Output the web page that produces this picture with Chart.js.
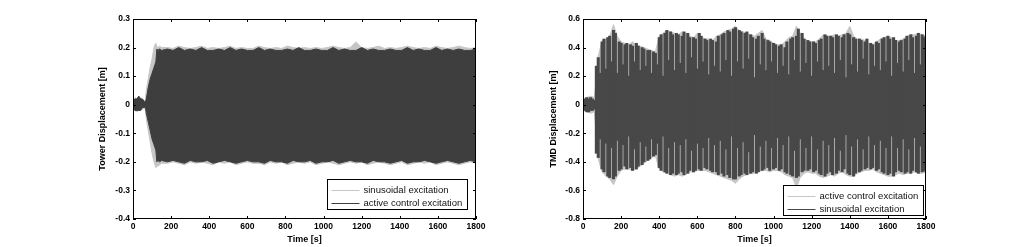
<!DOCTYPE html>
<html lang="en">
<head>
<meta charset="UTF-8">
<title>Tower and TMD displacement</title>
<script src="https://cdn.jsdelivr.net/npm/chart.js"></script>
<style>
  html, body { margin: 0; padding: 0; background: #fff; }
  .panel { position: absolute; top: 0; width: 512px; height: 247px; }
</style>
</head>
<body>
<div class="panel" style="left:0"><canvas id="towerChart" width="512" height="247"></canvas></div>
<div class="panel" style="left:512px"><canvas id="tmdChart" width="512" height="247"></canvas></div>

<script>
// ---- tower displacement (left), envelope of the oscillation [m] ----
const towerTime = [0,10,20,30,40,50,60,65,70,80,90,100,110,115,120,125,130,140,150,
  180,210,240,270,300,330,360,390,420,450,480,510,540,570,600,630,660,690,720,750,
  780,810,840,870,900,930,960,990,1020,1050,1080,1110,1140,1170,1200,1230,1260,1290,
  1320,1350,1380,1410,1440,1470,1500,1530,1560,1590,1620,1650,1680,1710,1740,1770,1800];

const towerSinHi = [0.015,0.025,0.02,0.03,0.025,0.02,0.01,0.02,0.05,0.09,0.13,0.16,0.2,0.21,0.215,0.205,0.2,0.205,0.2,
  0.2,0.197,0.205,0.2,0.197,0.2,0.205,0.197,0.2,0.197,
  0.2,0.205,0.197,0.2,0.197,0.197,0.205,0.2,0.197,0.2,
  0.197,0.205,0.2,0.197,0.2,0.197,0.2,0.197,0.2,0.205,
  0.2,0.197,0.2,0.22,0.2,0.197,0.2,0.205,0.197,0.2,
  0.197,0.2,0.205,0.2,0.197,0.2,0.197,0.205,0.2,0.197,
  0.2,0.205,0.2,0.197,0.2];
const towerSinLo = [-0.015,-0.02,-0.025,-0.02,-0.02,-0.015,-0.01,-0.02,-0.05,-0.09,-0.13,-0.17,-0.2,-0.21,-0.22,-0.215,-0.215,-0.21,-0.205,
  -0.205,-0.2,-0.205,-0.21,-0.2,-0.205,-0.2,-0.205,-0.21,-0.2,
  -0.205,-0.2,-0.21,-0.205,-0.2,-0.205,-0.205,-0.21,-0.2,-0.205,
  -0.2,-0.21,-0.205,-0.2,-0.205,-0.2,-0.21,-0.205,-0.2,-0.205,
  -0.21,-0.205,-0.2,-0.205,-0.2,-0.21,-0.205,-0.2,-0.205,-0.21,
  -0.205,-0.2,-0.21,-0.205,-0.2,-0.205,-0.2,-0.21,-0.205,-0.2,
  -0.205,-0.21,-0.205,-0.2,-0.205];
const towerActHi = [0.01,0.02,0.02,0.03,0.02,0.02,0.01,0.01,0.02,0.06,0.09,0.11,0.13,0.14,0.15,0.195,0.19,0.195,0.19,
  0.195,0.19,0.2,0.19,0.195,0.19,0.2,0.19,0.19,0.195,
  0.19,0.2,0.19,0.195,0.19,0.19,0.2,0.19,0.195,0.19,
  0.19,0.195,0.19,0.2,0.19,0.19,0.195,0.19,0.19,0.2,
  0.19,0.195,0.19,0.19,0.2,0.19,0.195,0.19,0.19,0.195,
  0.19,0.19,0.2,0.19,0.195,0.19,0.19,0.2,0.19,0.195,
  0.19,0.195,0.19,0.19,0.195];
const towerActLo = [-0.01,-0.02,-0.02,-0.02,-0.02,-0.01,-0.01,-0.01,-0.03,-0.06,-0.09,-0.12,-0.14,-0.15,-0.16,-0.2,-0.195,-0.2,-0.195,
  -0.2,-0.195,-0.2,-0.205,-0.195,-0.2,-0.2,-0.195,-0.205,-0.2,
  -0.195,-0.2,-0.205,-0.2,-0.195,-0.2,-0.2,-0.205,-0.195,-0.2,
  -0.2,-0.205,-0.195,-0.2,-0.2,-0.195,-0.205,-0.2,-0.2,-0.195,
  -0.205,-0.2,-0.195,-0.2,-0.2,-0.205,-0.195,-0.2,-0.2,-0.205,
  -0.2,-0.195,-0.205,-0.2,-0.2,-0.195,-0.2,-0.205,-0.2,-0.195,
  -0.2,-0.205,-0.2,-0.195,-0.2];

// ---- TMD displacement (right) ----
// active control excitation: envelope every 20 s
const tmdActStep = 20;
const tmdActHi = [0.04,0.05,0.06,0.05,0.34,0.45,0.46,0.48,0.56,0.48,
  0.44,0.43,0.42,0.44,0.42,0.41,0.40,0.39,0.38,0.37,
  0.48,0.50,0.52,0.51,0.50,0.49,0.51,0.50,0.48,0.47,
  0.50,0.48,0.46,0.46,0.45,0.48,0.49,0.51,0.52,0.53,
  0.55,0.52,0.51,0.50,0.49,0.48,0.50,0.52,0.46,0.45,
  0.43,0.42,0.42,0.44,0.47,0.48,0.55,0.50,0.46,0.45,
  0.44,0.44,0.46,0.49,0.48,0.48,0.49,0.48,0.49,0.50,
  0.55,0.48,0.46,0.46,0.45,0.43,0.42,0.44,0.46,0.47,
  0.48,0.47,0.45,0.45,0.46,0.48,0.49,0.49,0.50,0.49,0.48];
const tmdActLo = [-0.04,-0.05,-0.06,-0.05,-0.38,-0.47,-0.50,-0.52,-0.56,-0.50,
  -0.46,-0.45,-0.45,-0.46,-0.45,-0.43,-0.41,-0.39,-0.37,-0.36,
  -0.45,-0.47,-0.48,-0.49,-0.50,-0.49,-0.50,-0.49,-0.47,-0.47,
  -0.46,-0.46,-0.46,-0.47,-0.48,-0.49,-0.50,-0.51,-0.52,-0.53,
  -0.55,-0.52,-0.50,-0.49,-0.48,-0.48,-0.47,-0.46,-0.46,-0.47,
  -0.46,-0.46,-0.47,-0.49,-0.50,-0.51,-0.58,-0.51,-0.48,-0.47,
  -0.48,-0.48,-0.50,-0.51,-0.50,-0.49,-0.50,-0.48,-0.47,-0.49,
  -0.50,-0.50,-0.48,-0.47,-0.46,-0.46,-0.45,-0.47,-0.48,-0.49,
  -0.50,-0.50,-0.49,-0.48,-0.49,-0.48,-0.48,-0.47,-0.48,-0.48,-0.47];

// sinusoidal excitation: peak / trough every 10 s (beat nodes show as short strokes)
const tmdSinStep = 10;
const tmdSinHi = [0.03,0.04,0.05,0.04,0.05,0.04,0.03,0.27,0.33,0.22,
  0.44,0.46,0.25,0.47,0.48,0.30,0.52,0.50,0.22,0.44,
  0.43,0.28,0.42,0.43,0.20,0.42,0.41,0.30,0.43,0.41,
  0.24,0.40,0.39,0.27,0.38,0.38,0.22,0.37,0.36,0.28,
  0.47,0.49,0.20,0.50,0.52,0.31,0.51,0.49,0.24,0.50,
  0.49,0.29,0.48,0.51,0.22,0.50,0.47,0.33,0.47,0.46,
  0.25,0.50,0.48,0.30,0.46,0.45,0.21,0.46,0.45,0.27,
  0.44,0.48,0.23,0.49,0.50,0.31,0.52,0.51,0.20,0.53,
  0.54,0.30,0.52,0.51,0.25,0.50,0.51,0.32,0.49,0.47,
  0.19,0.46,0.48,0.28,0.50,0.46,0.24,0.45,0.44,0.30,
  0.43,0.42,0.22,0.41,0.42,0.27,0.40,0.44,0.21,0.46,
  0.47,0.31,0.48,0.53,0.23,0.50,0.46,0.29,0.45,0.44,
  0.20,0.44,0.43,0.30,0.45,0.46,0.24,0.49,0.48,0.27,
  0.48,0.47,0.22,0.49,0.48,0.31,0.47,0.49,0.19,0.50,
  0.49,0.28,0.47,0.46,0.23,0.46,0.45,0.32,0.44,0.46,
  0.21,0.43,0.42,0.27,0.44,0.43,0.24,0.46,0.47,0.30,
  0.48,0.46,0.20,0.47,0.45,0.29,0.44,0.45,0.23,0.46,
  0.48,0.31,0.49,0.47,0.22,0.48,0.50,0.28,0.49,0.47,
  0.48];
const tmdSinLo = [-0.03,-0.04,-0.05,-0.05,-0.04,-0.04,-0.03,-0.34,-0.37,-0.24,
  -0.45,-0.47,-0.27,-0.50,-0.51,-0.30,-0.52,-0.50,-0.25,-0.46,
  -0.45,-0.28,-0.43,-0.45,-0.22,-0.44,-0.46,-0.31,-0.45,-0.43,
  -0.26,-0.42,-0.40,-0.29,-0.39,-0.38,-0.24,-0.36,-0.35,-0.27,
  -0.44,-0.46,-0.22,-0.47,-0.48,-0.30,-0.49,-0.48,-0.26,-0.49,
  -0.48,-0.28,-0.47,-0.49,-0.24,-0.48,-0.46,-0.32,-0.47,-0.46,
  -0.27,-0.45,-0.46,-0.30,-0.44,-0.45,-0.23,-0.46,-0.47,-0.28,
  -0.47,-0.49,-0.25,-0.48,-0.50,-0.31,-0.49,-0.51,-0.22,-0.52,
  -0.52,-0.30,-0.50,-0.49,-0.26,-0.48,-0.49,-0.33,-0.48,-0.47,
  -0.21,-0.48,-0.47,-0.29,-0.46,-0.45,-0.25,-0.44,-0.46,-0.30,
  -0.45,-0.44,-0.23,-0.46,-0.45,-0.28,-0.47,-0.48,-0.22,-0.49,
  -0.50,-0.32,-0.51,-0.50,-0.24,-0.47,-0.46,-0.30,-0.46,-0.45,
  -0.22,-0.47,-0.46,-0.31,-0.48,-0.49,-0.25,-0.50,-0.48,-0.28,
  -0.47,-0.49,-0.23,-0.48,-0.46,-0.32,-0.47,-0.45,-0.21,-0.48,
  -0.49,-0.29,-0.50,-0.48,-0.24,-0.47,-0.46,-0.31,-0.45,-0.44,
  -0.22,-0.45,-0.44,-0.28,-0.46,-0.45,-0.25,-0.47,-0.48,-0.30,
  -0.49,-0.48,-0.22,-0.50,-0.47,-0.30,-0.46,-0.47,-0.24,-0.48,
  -0.47,-0.31,-0.48,-0.46,-0.23,-0.47,-0.48,-0.29,-0.47,-0.46,
  -0.47];

const FONT = '"Liberation Sans", Arial, Helvetica, sans-serif';
const LIGHT = '#c6c6c6';
const DARK_TOWER = '#3e3e3e';
const DARK_TMD = '#484848';

// MATLAB-style box with inward ticks on all four sides
const matlabAxes = {
  id: 'matlabAxes',
  afterDatasetsDraw(chart) {
    const { ctx, chartArea: a, scales: { x, y } } = chart;
    ctx.save();
    ctx.strokeStyle = '#000';
    ctx.lineWidth = 1;
    ctx.beginPath();
    x.ticks.forEach(t => {
      const px = Math.round(x.getPixelForValue(t.value)) + 0.5;
      ctx.moveTo(px, a.bottom); ctx.lineTo(px, a.bottom - 3);
      ctx.moveTo(px, a.top); ctx.lineTo(px, a.top + 3);
    });
    y.ticks.forEach(t => {
      const py = Math.round(y.getPixelForValue(t.value)) + 0.5;
      ctx.moveTo(a.left, py); ctx.lineTo(a.left + 3, py);
      ctx.moveTo(a.right, py); ctx.lineTo(a.right - 3, py);
    });
    ctx.stroke();
    ctx.strokeRect(a.left + 0.5, a.top + 0.5, a.right - a.left - 1, a.bottom - a.top - 1);
    ctx.restore();
  }
};

// legend box in the lower right corner of the plot
const boxLegend = {
  id: 'boxLegend',
  afterDraw(chart, args, opts) {
    const { ctx, chartArea: a } = chart;
    const items = chart.data.datasets.filter(d => d.label);
    ctx.save();
    ctx.font = '9.5px ' + FONT;
    const textW = Math.max(...items.map(d => ctx.measureText(d.label).width));
    const w = Math.round(4 + 28 + 4 + textW + 5);
    const h = opts.height;
    const x0 = Math.round(a.right - opts.right - w) + 0.5;
    const y0 = Math.round(a.bottom - opts.bottom - h) + 0.5;
    ctx.fillStyle = '#fff';
    ctx.fillRect(x0, y0, w, h);
    ctx.strokeStyle = '#000';
    ctx.lineWidth = 1;
    ctx.strokeRect(x0, y0, w, h);
    ctx.textBaseline = 'middle';
    items.forEach((d, i) => {
      const cy = Math.round(y0 + 10 + i * 13) + 0.5;
      ctx.strokeStyle = d.borderColor;
      ctx.beginPath();
      ctx.moveTo(x0 + 4, cy); ctx.lineTo(x0 + 32, cy);
      ctx.stroke();
      ctx.fillStyle = '#111';
      ctx.fillText(d.label, x0 + 36, cy);
    });
    ctx.restore();
  }
};

function points(times, vals) {
  return times.map((t, i) => ({ x: t, y: vals[i] }));
}

function band(label, times, vals, color, order, fill) {
  return {
    type: 'line', label, data: points(times, vals), order,
    borderColor: color, backgroundColor: color, borderWidth: 1,
    pointRadius: 0, fill, tension: 0
  };
}

function yLabel(v) {
  const r = Math.round(v * 10) / 10;
  return r === 0 ? '0' : String(r);
}

function axes(yMin, yMax, yStep, yTitle, yWidth, yTitlePad) {
  const tickFont = { family: FONT, size: 8.5, weight: 'bold' };
  const titleFont = { family: FONT, size: 9, weight: 'bold' };
  return {
    x: {
      type: 'linear', min: 0, max: 1800, offset: false,
      grid: { display: false, drawTicks: false }, border: { display: false },
      ticks: { stepSize: 200, autoSkip: false, maxRotation: 0, padding: 3, color: '#000',
               font: tickFont, callback: v => String(v) },
      title: { display: true, text: 'Time [s]', color: '#000', font: titleFont,
               padding: { top: 0, bottom: 2 } },
      afterFit: s => { s.height = 28; }
    },
    y: {
      type: 'linear', min: yMin, max: yMax,
      grid: { display: false, drawTicks: false }, border: { display: false },
      ticks: { stepSize: yStep, autoSkip: false, padding: 3, color: '#000',
               font: tickFont, callback: yLabel },
      title: { display: true, text: yTitle, color: '#000', font: titleFont,
               padding: { top: yTitlePad, bottom: 0 } },
      afterFit: s => { s.width = yWidth; }
    }
  };
}

function baseOptions(scales, padRight, legendRight, legendBottom) {
  return {
    responsive: false,
    animation: false,
    devicePixelRatio: 1,
    layout: { padding: { left: 0, right: padRight, top: 19, bottom: 0 } },
    plugins: {
      legend: { display: false },
      tooltip: { enabled: false },
      boxLegend: { right: legendRight, bottom: legendBottom, height: 30 }
    },
    scales
  };
}

new Chart(document.getElementById('towerChart'), {
  type: 'line',
  data: {
    datasets: [
      band('sinusoidal excitation', towerTime, towerSinHi, LIGHT, 2, '+1'),
      band('', towerTime, towerSinLo, LIGHT, 2, false),
      band('active control excitation', towerTime, towerActHi, DARK_TOWER, 1, '+1'),
      band('', towerTime, towerActLo, DARK_TOWER, 1, false)
    ]
  },
  options: baseOptions(axes(-0.4, 0.3, 0.1, 'Tower Displacement [m]', 133, 97.6), 36, 9, 10),
  plugins: [matlabAxes, boxLegend]
});

new Chart(document.getElementById('tmdChart'), {
  type: 'line',
  data: {
    datasets: [
      band('active control excitation', tmdActHi.map((v, i) => i * tmdActStep), tmdActHi, LIGHT, 2, '+1'),
      band('', tmdActLo.map((v, i) => i * tmdActStep), tmdActLo, LIGHT, 2, false),
      {
        type: 'bar', label: 'sinusoidal excitation', order: 1,
        data: tmdSinHi.map((v, i) => ({ x: i * tmdSinStep, y: [tmdSinLo[i], v] })),
        backgroundColor: DARK_TMD, borderColor: DARK_TMD, borderWidth: 0,
        barThickness: 2.4, grouped: false
      }
    ]
  },
  options: baseOptions(axes(-0.8, 0.6, 0.2, 'TMD Displacement [m]', 71, 36), 98, 3, 4),
  plugins: [matlabAxes, boxLegend]
});
</script>
</body>
</html>
